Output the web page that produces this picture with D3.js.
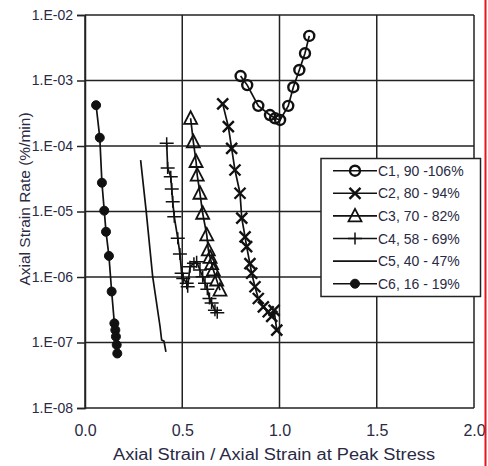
<!DOCTYPE html>
<html><head><meta charset="utf-8">
<script src="https://cdn.jsdelivr.net/npm/d3@7"></script>
<style>body{margin:0;background:#fff}svg{display:block}</style>
</head><body>
<script>
// ---- data ----
const c1x = [0.800,0.834,0.891,0.951,0.977,1.003,1.045,1.071,1.102,1.131,1.153];
const c1y = [1.17e-3,8.5e-4,4.1e-4,2.97e-4,2.65e-4,2.5e-4,4.1e-4,7.9e-4,1.45e-3,2.6e-3,4.8e-3];
const c2x = [0.708,0.737,0.754,0.771,0.797,0.806,0.823,0.831,0.848,0.857,0.874,0.891,0.917,0.942,0.960,0.972,0.986];
const c2y = [4.4e-4,1.97e-4,9.2e-5,4.3e-5,1.9e-5,7.9e-6,4.1e-6,2.9e-6,1.6e-6,1.14e-6,7.1e-7,4.7e-7,3.5e-7,2.95e-7,2.5e-7,3.1e-7,1.55e-7];
const c3x = [0.543,0.557,0.571,0.577,0.591,0.605,0.626,0.634,0.643,0.651,0.660,0.677,0.694];
const c3y = [2.65e-4,1.16e-4,5.8e-5,3.6e-5,1.9e-5,9.4e-6,4.4e-6,2.6e-6,2.0e-6,1.6e-6,1.28e-6,9.0e-7,6.3e-7];
const c4x = [0.420,0.425,0.441,0.446,0.451,0.459,0.477,0.488,0.497,0.505,0.523,0.528,0.540,0.560,0.574,0.591,0.605,0.617,0.629,0.640,0.651,0.668,0.680];
const c4y = [1.1e-4,4.6e-5,3.4e-5,2.2e-5,1.41e-5,8.3e-6,3.9e-6,2.25e-6,1.14e-6,9.5e-7,8.0e-7,7.1e-7,1.44e-6,1.62e-6,1.71e-6,1.28e-6,1.01e-6,8.0e-7,6.5e-7,4.7e-7,4.0e-7,3.1e-7,2.85e-7];
const c5x = [0.286,0.314,0.348,0.386,0.394,0.406,0.416];
const c5y = [6.1e-5,1.05e-5,1.01e-6,1.74e-7,1.09e-7,1.05e-7,7.2e-8];
const c6x = [0.057,0.076,0.087,0.099,0.108,0.123,0.137,0.151,0.156,0.159,0.163,0.166];
const c6y = [4.2e-4,1.34e-4,2.75e-5,1.03e-5,4.9e-6,2.1e-6,6.0e-7,1.96e-7,1.55e-7,1.23e-7,9.2e-8,6.8e-8];
const seriesNames = ["C1, 90 -106%","C2, 80 - 94%","C3, 70 - 82%","C4, 58 - 69%","C5, 40 - 47%","C6, 16 - 19%"];
const xTicks = [0,0.5,1.0,1.5,2.0];
const yTicks = [1e-8,1e-7,1e-6,1e-5,1e-4,1e-3,1e-2];
const xTitle = "Axial Strain / Axial Strain at Peak Stress";
const yTitle = "Axial Strain Rate (%/min)";

const W=488,H=466;
const svg=d3.select("body").append("svg").attr("width",W).attr("height",H);
const L=85,R=474,T=15,B=408;
const x=d3.scaleLinear().domain([0,2]).range([L,R]);
const y=d3.scaleLog().domain([1e-8,1e-2]).range([B,T]);
const ink="#111", txt="#2a2a44", font="'Liberation Sans', Arial, sans-serif";

// grid
const g=svg.append("g");
g.selectAll("line.h").data(yTicks).join("line")
 .attr("x1",L).attr("x2",R).attr("y1",d=>y(d)).attr("y2",d=>y(d))
 .attr("stroke","#222").attr("stroke-width",1.5);
g.selectAll("line.v").data(xTicks).join("line")
 .attr("x1",d=>x(d)).attr("x2",d=>x(d)).attr("y1",T).attr("y2",B)
 .attr("stroke","#222").attr("stroke-width",1.5);

// y axis
const yAx=d3.axisLeft(y).tickValues(yTicks).tickSize(8).tickPadding(4)
 .tickFormat(d=>"1.E-0"+Math.round(-Math.log10(d)));
const ya=svg.append("g").attr("transform",`translate(${L},0)`).call(yAx);
ya.select(".domain").attr("stroke","#222").attr("stroke-width",1.5);
ya.selectAll(".tick line").attr("stroke","#222").attr("stroke-width",1.5);
ya.selectAll("text").attr("font-family",font).attr("font-size",14).attr("fill",txt);

const xAx=d3.axisBottom(x).tickValues(xTicks).tickSize(0).tickPadding(17).tickFormat(d3.format(".1f"));
const xa=svg.append("g").attr("transform",`translate(0,${B})`).call(xAx);
xa.select(".domain").remove();
xa.selectAll("text").attr("font-family",font).attr("font-size",16).attr("fill",txt);

svg.append("text").attr("x",274).attr("y",460).attr("text-anchor","middle")
 .attr("font-family",font).attr("font-size",16).attr("fill",txt)
 .attr("textLength",322).attr("lengthAdjust","spacingAndGlyphs").text(xTitle);
svg.append("text").attr("transform","translate(29.5,199) rotate(-90)").attr("text-anchor","middle")
 .attr("font-family",font).attr("font-size",15.5).attr("fill",txt).text(yTitle);

// markers
function marker(sel,type){
  if(type==="circle"){
    sel.append("circle").attr("r",5).attr("fill","none").attr("stroke",ink).attr("stroke-width",2.4);
  } else if(type==="x"){
    sel.append("path").attr("d","M-5.5,-5.5L5.5,5.5M-5.5,5.5L5.5,-5.5").attr("stroke",ink).attr("stroke-width",2.4);
  } else if(type==="tri"){
    sel.append("path").attr("d","M0,-7L6.5,5.5L-6.5,5.5Z").attr("fill","none").attr("stroke",ink).attr("stroke-width",1.8);
  } else if(type==="plus"){
    sel.append("path").attr("d","M-7,0L7,0M0,-6L0,6").attr("stroke",ink).attr("stroke-width",1.5);
  } else if(type==="dot"){
    sel.append("circle").attr("r",4.5).attr("fill",ink).attr("stroke",ink).attr("stroke-width",1);
  }
}
const series=[
 {xs:c1x,ys:c1y,m:"circle"},
 {xs:c2x,ys:c2y,m:"x"},
 {xs:c3x,ys:c3y,m:"tri"},
 {xs:c4x,ys:c4y,m:"plus"},
 {xs:c5x,ys:c5y,m:null},
 {xs:c6x,ys:c6y,m:"dot"}
];
const line=d3.line().x(d=>x(d[0])).y(d=>y(d[1]));
series.forEach(s=>{
  const pts=s.xs.map((v,i)=>[v,s.ys[i]]);
  svg.append("path").attr("d",line(pts)).attr("fill","none").attr("stroke",ink).attr("stroke-width",1.7);
  if(s.m){
    svg.append("g").selectAll("g").data(pts).join("g")
     .attr("transform",d=>`translate(${x(d[0])},${y(d[1])})`)
     .each(function(){marker(d3.select(this),s.m);});
  }
});

// legend
const lg=svg.append("g");
lg.append("rect").attr("x",321).attr("y",158.5).attr("width",159.5).attr("height",138)
 .attr("fill","#fff").attr("stroke","#222").attr("stroke-width",1.5);
seriesNames.forEach((n,i)=>{
  const yy=170.7+i*22.6;
  lg.append("line").attr("x1",333).attr("x2",377).attr("y1",yy).attr("y2",yy).attr("stroke",ink).attr("stroke-width",1.6);
  if(series[i].m) marker(lg.append("g").attr("transform",`translate(355,${yy})`),series[i].m);
  lg.append("text").attr("x",378).attr("y",yy+5).attr("font-family",font).attr("font-size",14)
   .attr("fill",txt).text(n);
});

// red edge line
svg.append("line").attr("x1",485.5).attr("x2",485.5).attr("y1",0).attr("y2",H).attr("stroke","#e8141c").attr("stroke-width",2);
</script>
</body></html>
